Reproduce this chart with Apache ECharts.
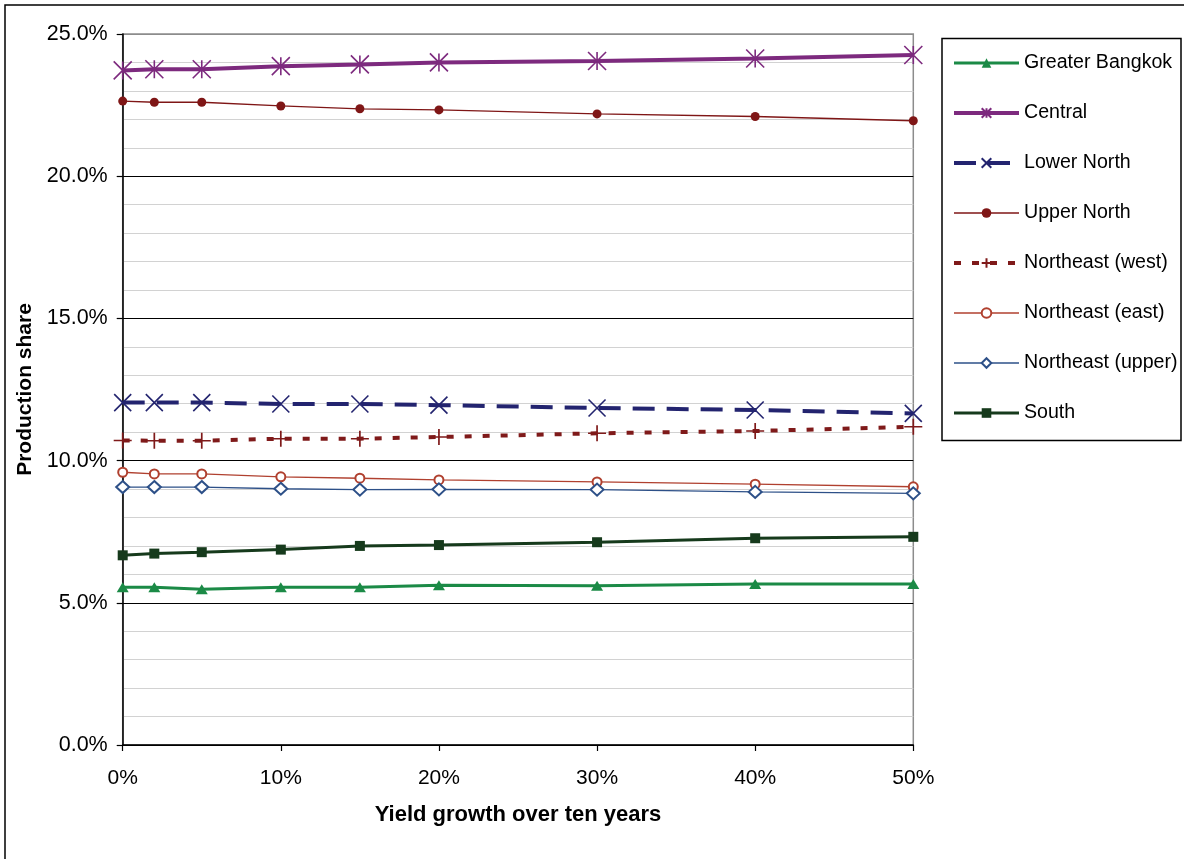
<!DOCTYPE html>
<html>
<head>
<meta charset="utf-8">
<script src="https://cdn.jsdelivr.net/npm/echarts@6/dist/echarts.min.js"></script>
<style>
  html, body { margin: 0; padding: 0; background: #fff; }
  #chart { width: 1184px; height: 859px; }
</style>
</head>
<body>
<div id="chart"></div>
<script>
// Yield growth over ten years (%), x positions of every point
const growth = [0, 2, 5, 10, 15, 20, 30, 40, 50];

// Production share (%) by region
const greaterBangkok = [5.55, 5.55, 5.48, 5.55, 5.55, 5.62, 5.60, 5.66, 5.66];
const central        = [23.72, 23.76, 23.76, 23.87, 23.93, 24.00, 24.05, 24.14, 24.26];
const lowerNorth     = [12.04, 12.04, 12.04, 11.99, 11.99, 11.95, 11.85, 11.78, 11.66];
const upperNorth     = [22.64, 22.60, 22.60, 22.47, 22.37, 22.33, 22.19, 22.10, 21.95];
const northeastWest  = [10.71, 10.70, 10.70, 10.77, 10.77, 10.83, 10.96, 11.04, 11.19];
const northeastEast  = [9.59, 9.53, 9.53, 9.43, 9.38, 9.32, 9.25, 9.17, 9.08];
const northeastUpper = [9.07, 9.07, 9.07, 9.01, 8.98, 8.99, 8.98, 8.90, 8.85];
const south          = [6.67, 6.73, 6.78, 6.87, 7.00, 7.03, 7.13, 7.27, 7.32];

const regionNames = [
  'Greater Bangkok', 'Central', 'Lower North', 'Upper North',
  'Northeast (west)', 'Northeast (east)', 'Northeast (upper)', 'South'
];

const FONT = 'Arial, "Liberation Sans", sans-serif';

// stroke-only marker shapes
const ASTERISK = 'path://M0,0L20,20M20,0L0,20M10,0L10,20';
const CROSS = 'path://M0,0L20,20M20,0L0,20';
const PLUS = 'path://M10,0L10,20M0,10L20,10';

function pairs(values) {
  return growth.map((g, i) => [g, values[i]]);
}

function lineSeries(name, values, color, width, dash, symbol, size, itemStyle) {
  return {
    name: name,
    type: 'line',
    data: pairs(values),
    symbol: symbol,
    symbolSize: size,
    showAllSymbol: true,
    clip: false,
    lineStyle: { color: color, width: width, type: dash || 'solid' },
    itemStyle: Object.assign({ color: color, borderColor: color, borderWidth: 0, opacity: 1 }, itemStyle || {}),
    emphasis: { disabled: true },
    animation: false
  };
}

const series = [
  lineSeries(regionNames[0], greaterBangkok, '#1b8a46', 3, null, 'triangle', [12, 10]),
  lineSeries(regionNames[1], central, '#7d2a7e', 4, null, ASTERISK, [18, 18], { borderWidth: 1.6 }),
  lineSeries(regionNames[2], lowerNorth, '#23246f', 4, [22, 12], CROSS, [17, 17], { borderWidth: 1.6 }),
  lineSeries(regionNames[3], upperNorth, '#7f1616', 1.3, null, 'circle', 9),
  lineSeries(regionNames[4], northeastWest, '#7f1a1a', 4, [7, 11], PLUS, [18, 16], { borderWidth: 1.6 }),
  lineSeries(regionNames[5], northeastEast, '#b0402f', 1.3, null, 'emptyCircle', 9, { borderWidth: 1.5 }),
  lineSeries(regionNames[6], northeastUpper, '#2d5088', 1.3, null, 'emptyDiamond', [13, 12], { borderWidth: 1.5 }),
  lineSeries(regionNames[7], south, '#163a1c', 3, null, 'rect', 10)
];

const chart = echarts.init(document.getElementById('chart'), null, { renderer: 'canvas' });

chart.setOption({
  backgroundColor: '#fff',
  animation: false,
  textStyle: { fontFamily: FONT },
  grid: {
    left: 122.7, right: 270.7, top: 34, bottom: 114,
    show: true, borderColor: '#8c8c8c', borderWidth: 1.5, backgroundColor: 'transparent'
  },
  xAxis: {
    type: 'value',
    min: 0, max: 50, interval: 10,
    name: 'Yield growth over ten years',
    nameLocation: 'middle',
    nameGap: 59,
    nameTextStyle: { fontFamily: FONT, fontSize: 22, fontWeight: 'bold', color: '#000' },
    axisLine: { show: true, onZero: false, lineStyle: { color: '#000', width: 1.5 } },
    axisTick: { show: true, length: 6, lineStyle: { color: '#000', width: 1.2 } },
    axisLabel: { fontFamily: FONT, fontSize: 21, color: '#000', margin: 23, formatter: v => v + '%' },
    splitLine: { show: false }
  },
  yAxis: {
    type: 'value',
    min: 0, max: 25, interval: 5,
    name: 'Production share',
    nameLocation: 'middle',
    nameGap: 87,
    nameTextStyle: { fontFamily: FONT, fontSize: 21, fontWeight: 'bold', color: '#000' },
    axisLine: { show: true, lineStyle: { color: '#000', width: 1.5 } },
    axisTick: { show: true, length: 6, lineStyle: { color: '#000', width: 1.2 } },
    axisLabel: { fontFamily: FONT, fontSize: 21.5, color: '#000', margin: 15, formatter: v => v.toFixed(1) + '%' },
    splitLine: {
      show: true,
      lineStyle: { color: ['#000', '#000', '#000', '#000', '#000', '#8c8c8c'], width: 1.2 }
    },
    minorTick: { show: false, splitNumber: 5 },
    minorSplitLine: { show: true, lineStyle: { color: '#d2d2d2', width: 1.2 } }
  },
  legend: {
    orient: 'vertical',
    left: 952,
    top: 52,
    padding: 0,
    itemWidth: 65,
    itemHeight: 12,
    itemGap: 28,
    selectedMode: false,
    data: regionNames,
    lineStyle: { width: 'inherit' },
    textStyle: { fontFamily: FONT, fontSize: 19.6, color: '#000', lineHeight: 22 }
  },
  graphic: [
    {
      type: 'rect', z: -10, silent: true,
      shape: { x: 5, y: 5, width: 1300, height: 1000 },
      style: { fill: null, stroke: '#000', lineWidth: 1.5 }
    },
    {
      type: 'rect', z: 0, silent: true,
      shape: { x: 942, y: 38.5, width: 239, height: 402 },
      style: { fill: '#fff', stroke: '#000', lineWidth: 1.5 }
    }
  ],
  series: series
});
</script>
</body>
</html>
